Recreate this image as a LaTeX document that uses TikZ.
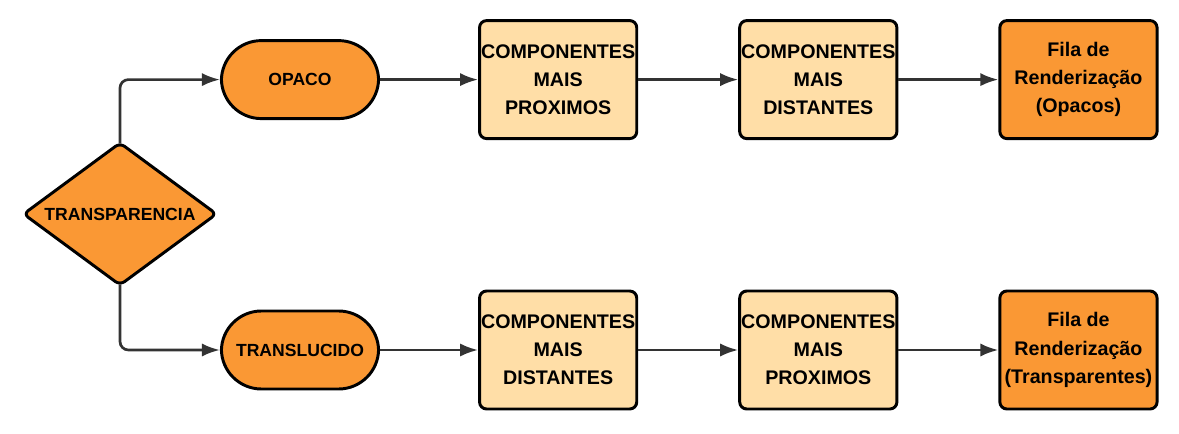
\documentclass[tikz,border=0pt]{standalone}
\usepackage{fontspec}
\setmainfont{Liberation Sans}
\usetikzlibrary{positioning}
\usetikzlibrary{shapes.geometric}
\usetikzlibrary{arrows.meta}
\definecolor{laranja}{HTML}{FA9834}
\definecolor{creme}{HTML}{FFDEA7}
\definecolor{seta}{HTML}{333333}
\tikzset{
	decisao/.style={draw, diamond, aspect=1.35, inner sep=0pt, minimum width=4.85cm, minimum height=3.58cm, line width=2.1pt, rounded corners=4pt, fill=laranja, font=\fontsize{12.5}{15}\selectfont\bfseries},
	estado/.style={draw, rectangle, rounded corners=1cm, inner sep=2pt, minimum width=3.93cm, minimum height=1.95cm, line width=2.1pt, fill=laranja, font=\fontsize{12.5}{15}\selectfont\bfseries},
	etapa/.style={draw, rectangle, rounded corners=5pt, inner sep=1pt, minimum width=3.93cm, minimum height=2.95cm, line width=2.1pt, fill=creme, align=center, font=\fontsize{14}{20}\selectfont\bfseries},
	% fila final de cada ramo
	fila/.style={etapa, fill=laranja},
}

\begin{document}
\begin{tikzpicture}
		\useasboundingbox (-3,-5.475) rectangle (26.475,5.35);
		
		\node (transp) [decisao] at (0,0) {TRANSPARENCIA};
		
		\node (opaco) [estado] at (4.5,3.36) {OPACO};
		\node (opaco1) [etapa, right=2.45cm of opaco] {COMPONENTES\\MAIS\\PROXIMOS};
		\node (opaco2) [etapa, right=2.5cm of opaco1] {COMPONENTES\\MAIS\\DISTANTES};
		\node (filaop) [fila, right=2.5cm of opaco2] {Fila de\\Renderização\\(Opacos)};
		
		\node (transl) [estado] at (4.5,-3.4) {TRANSLUCIDO};
		\node (transl1) [etapa, right=2.45cm of transl] {COMPONENTES\\MAIS\\DISTANTES};
		\node (transl2) [etapa, right=2.5cm of transl1] {COMPONENTES\\MAIS\\PROXIMOS};
		\node (filatr) [fila, right=2.5cm of transl2] {Fila de\\Renderização\\(Transparentes)};
		
		\begin{scope}[seta, line width=1.9pt, -{Latex[length=0.45cm, width=0.33cm]}, rounded corners=6pt]
			\draw ([yshift=-2pt]transp.north) |- (opaco.west);
			\draw ([yshift=2pt]transp.south) |- (transl.west);
			
			\draw (opaco) -- (opaco1);
			\draw (opaco1) -- (opaco2);
			\draw (opaco2) -- (filaop);
			
			\draw (transl) -- (transl1);
			\draw (transl1) -- (transl2);
			\draw (transl2) -- (filatr);
		\end{scope}
	\end{tikzpicture}
\end{document}
